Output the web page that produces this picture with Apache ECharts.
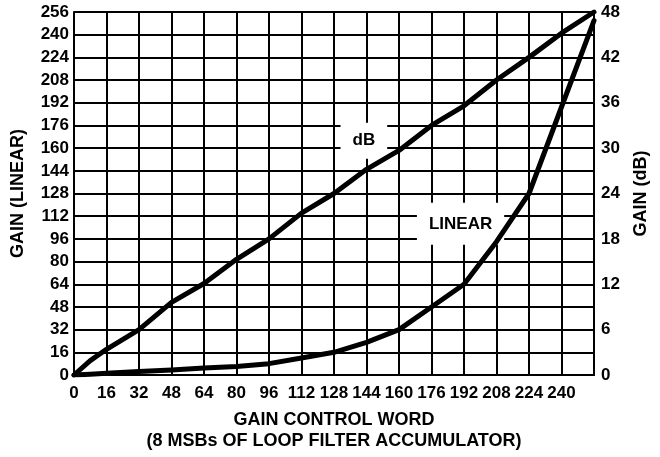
<!DOCTYPE html>
<html>
<head>
<meta charset="utf-8">
<script src="https://cdn.jsdelivr.net/npm/echarts@6/dist/echarts.min.js"></script>
<style>
html,body{margin:0;padding:0;background:#fff;}
#chart{width:660px;height:457px;}
</style>
</head>
<body>
<div id="chart"></div>
<script>
// Gain control word (x)
var controlWords = [0, 8, 16, 32, 48, 64, 80, 96, 112, 128, 144, 160, 176, 192, 208, 224, 240, 256];
// Gain in dB (right axis)
var gainDb = [0, 1.9, 3.4, 6.0, 9.6, 12.1, 15.3, 18.0, 21.4, 24.0, 27.2, 29.7, 33.0, 35.6, 39.0, 42.0, 45.2, 48];
// Gain linear (left axis)
var gainLinear = [0, 0.6, 1.2, 2.4, 3.6, 5, 6, 8, 12, 16, 23, 32, 48, 64, 94, 128, 189, 250];
// Axis ticks
var xTicks = {min: 0, max: 256, step: 16};
var leftTicks = {min: 0, max: 256, step: 16};
var rightTicks = {min: 0, max: 48, step: 6};
// Curve annotations: [x, linear-y, text]
var annotations = [[142.7, 165.2, 'dB'], [190.3, 106.6, 'LINEAR']];

var FONT = "'Liberation Sans', Arial, Helvetica, sans-serif";
function pairs(xs, ys) { return xs.map(function (x, i) { return [x, ys[i]]; }); }

var chart = echarts.init(document.getElementById('chart'), null, {renderer: 'canvas'});
var labelStyle = {color: '#000', fontFamily: FONT, fontWeight: 'bold', fontSize: 17};
var nameStyle = {color: '#000', fontFamily: FONT, fontWeight: 'bold', fontSize: 18, lineHeight: 21};
var paddings = [[9, 12, 9, 12], [19, 12, 5, 12]];

chart.setOption({
  animation: false,
  backgroundColor: '#fff',
  grid: {left: 74, right: 64, top: 12, bottom: 80, containLabel: false},
  xAxis: {
    type: 'value', min: xTicks.min, max: xTicks.max, interval: xTicks.step,
    name: 'GAIN CONTROL WORD\n(8 MSBs OF LOOP FILTER ACCUMULATOR)',
    nameLocation: 'middle', nameGap: 35, nameMoveOverlap: false,
    nameTextStyle: nameStyle,
    axisLine: {show: true, lineStyle: {color: '#000', width: 2}},
    axisTick: {show: false},
    splitLine: {show: true, lineStyle: {color: '#000', width: 2}},
    axisLabel: Object.assign({margin: 10, formatter: function (v) { return v === 256 ? '' : String(v); }}, labelStyle)
  },
  yAxis: [{
    type: 'value', min: leftTicks.min, max: leftTicks.max, interval: leftTicks.step,
    name: 'GAIN (LINEAR)', nameLocation: 'middle', nameGap: 45, nameRotate: 90, nameMoveOverlap: false,
    nameTextStyle: nameStyle,
    axisLine: {show: true, lineStyle: {color: '#000', width: 2}},
    axisTick: {show: false},
    splitLine: {show: true, lineStyle: {color: '#000', width: 2}},
    axisLabel: Object.assign({margin: 5}, labelStyle)
  }, {
    type: 'value', position: 'right', min: rightTicks.min, max: rightTicks.max, interval: rightTicks.step,
    name: 'GAIN (dB)', nameLocation: 'middle', nameGap: 37, nameRotate: 90, nameMoveOverlap: false,
    nameTextStyle: nameStyle,
    axisLine: {show: true, lineStyle: {color: '#000', width: 2}},
    axisTick: {show: false},
    splitLine: {show: false},
    axisLabel: Object.assign({margin: 7}, labelStyle)
  }],
  series: [{
    type: 'scatter', z: 1, yAxisIndex: 0, symbolSize: 1, silent: true,
    itemStyle: {color: '#fff', opacity: 1},
    emphasis: {disabled: true},
    data: annotations.map(function (a, i) {
      return {value: [a[0], a[1]], name: a[2], label: {padding: paddings[i]}};
    }),
    label: {
      show: true, position: 'inside', formatter: '{b}', opacity: 1,
      color: '#000', fontFamily: FONT, fontWeight: 'bold', fontSize: 17, lineHeight: 18,
      textBorderWidth: 0, textBorderColor: 'transparent',
      backgroundColor: '#fff'
    },
    labelLayout: {hideOverlap: false}
  }, {
    type: 'line', z: 3, name: 'LINEAR', yAxisIndex: 0, showSymbol: false, symbol: 'none',
    data: pairs(controlWords, gainLinear),
    lineStyle: {color: '#000', width: 5, join: 'round', cap: 'round'}
  }, {
    type: 'line', z: 3, name: 'dB', yAxisIndex: 1, showSymbol: false, symbol: 'none',
    data: pairs(controlWords, gainDb),
    lineStyle: {color: '#000', width: 5, join: 'round', cap: 'round'}
  }]
});
</script>
</body>
</html>
